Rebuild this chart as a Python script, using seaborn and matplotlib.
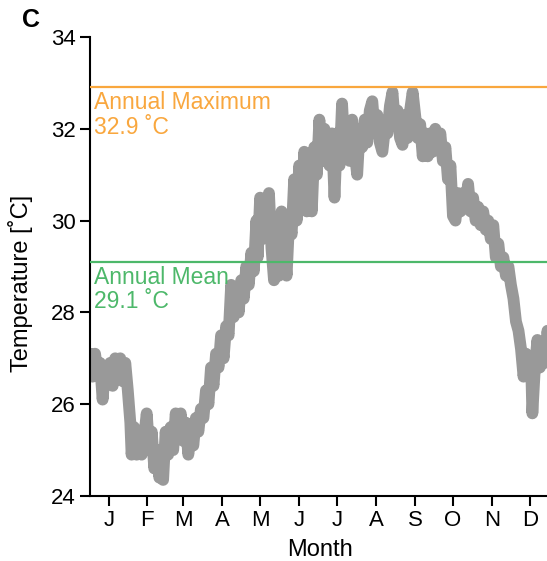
import seaborn as sns
import matplotlib.pyplot as plt
import pandas as pd

# day of year and temperature (zigzag keeps the band look)
days = [0, 2, 4, 6, 8, 10, 12, 14, 16, 18, 20, 22, 24, 26, 28, 30,
        32, 33, 35, 37, 39, 41, 43, 45, 47, 49, 51, 53, 55, 57, 58,
        60, 62, 64, 66, 68, 70, 72, 74, 76, 78, 80, 82, 84, 86, 88,
        90, 92, 94, 96, 98, 100, 102, 104, 106, 108, 110, 112, 114, 116, 118,
        120, 122, 124, 126, 128, 130, 132, 133, 135, 137, 139, 141, 142, 144, 146,
        148, 150, 152, 154, 156, 158, 160, 162, 164, 166, 168, 170, 172, 174, 176,
        178, 180, 182, 184, 186, 188, 190, 192, 194, 196, 198, 200, 202, 204, 206,
        208, 210, 212, 214, 216, 218, 220, 222, 224, 226, 228, 230, 232, 234, 236,
        238, 240, 242, 244, 246, 248, 250, 252, 254, 256, 258, 260, 262, 264, 266,
        268, 270, 272, 274, 276, 278, 280, 282, 284, 286, 288, 290, 292, 294, 296,
        298, 300, 302, 304, 306, 308, 310, 312, 314, 316, 318, 320, 322, 324, 326,
        328, 330, 332, 334, 336, 338, 340, 342, 344, 346, 348, 350, 351, 353, 355,
        357, 359, 361, 363, 365]
temps = [27.1, 26.6, 27.1, 26.7, 26.9, 26.1, 26.8, 26.5, 26.9, 26.4, 27.0, 26.6, 27.0, 26.5, 26.9, 26.3,
         25.6, 24.9, 25.5, 24.9, 25.2, 24.9, 25.3, 25.8, 25.0, 25.4, 24.6, 25.0, 24.4, 24.8, 24.35,
         25.4, 24.9, 25.5, 25.0, 25.8, 25.3, 25.8, 25.2, 25.6, 24.9, 25.4, 25.1, 25.7, 25.4, 25.9,
         25.7, 26.3, 26.0, 26.8, 26.4, 27.1, 26.8, 27.5, 27.0, 27.7, 27.5, 28.6, 27.9, 28.4, 28.0,
         28.7, 28.3, 29.0, 28.6, 29.3, 28.9, 30.0, 29.2, 30.5, 29.6, 30.2, 29.7, 30.6, 29.4, 28.7,
         29.8, 28.8, 30.2, 29.5, 28.8, 30.0, 29.7, 30.9, 30.0, 31.2, 30.4, 31.5, 30.2, 31.0, 30.2,
         31.6, 31.0, 32.2, 31.3, 32.0, 31.6, 31.2, 31.9, 30.5, 31.9, 31.2, 32.55, 31.5, 32.1, 31.3,
         32.2, 31.5, 31.0, 32.0, 31.6, 32.2, 31.7, 32.4, 32.6, 31.9, 32.3, 31.7, 31.5, 32.0, 31.9,
         32.5, 32.8, 32.1, 32.4, 31.8, 31.65, 32.3, 31.8, 32.4, 32.8, 32.3, 31.8, 32.1, 31.4, 31.9,
         31.4, 31.9, 31.5, 32.0, 31.6, 31.9, 31.3, 31.6, 30.9, 31.2, 30.1, 30.0, 30.6, 30.2, 30.6,
         30.3, 30.8, 30.2, 30.5, 30.0, 30.3, 29.9, 30.2, 29.8, 30.0, 29.6, 29.9, 29.2, 29.5, 29.0,
         29.2, 28.8, 29.0, 28.6, 28.3, 27.8, 27.6, 27.2, 26.6, 27.1, 26.6, 26.9, 25.8, 26.8, 27.4,
         26.8, 27.3, 26.9, 27.6, 27.1]

annual_max = 32.9
annual_mean = 29.1

month_days = [15, 45, 74, 105, 135, 166, 196, 227, 258, 288, 319, 349]
month_labels = ['J', 'F', 'M', 'A', 'M', 'J', 'J', 'A', 'S', 'O', 'N', 'D']
y_ticks = [24, 26, 28, 30, 32, 34]

df = pd.DataFrame({'Day': days, 'Temperature': temps})

sns.set_style('ticks')
plt.rcParams['font.family'] = ['Liberation Sans', 'DejaVu Sans']
plt.rcParams['text.color'] = 'black'
plt.rcParams['xtick.color'] = 'black'
plt.rcParams['ytick.color'] = 'black'
plt.rcParams['axes.labelcolor'] = 'black'

fig = plt.figure(figsize=(5.47, 5.61), dpi=100)
ax = fig.add_axes([90 / 547, 1 - 496 / 561, 460 / 547, 459 / 561])

sns.lineplot(data=df, x='Day', y='Temperature', estimator=None, sort=False,
             color='#999999', linewidth=8.5, solid_joinstyle='round',
             solid_capstyle='round', ax=ax, zorder=2)

orange = '#F9A73E'
green = '#4DB86A'
ax.axhline(annual_max, color=orange, linewidth=1.6, zorder=3)
ax.axhline(annual_mean, color=green, linewidth=1.6, zorder=3)
ax.text(3, annual_max - 0.08, f'Annual Maximum\n{annual_max} \u02daC', color=orange,
        fontsize=16.5, va='top', ha='left', linespacing=1.1)
ax.text(3, annual_mean - 0.08, f'Annual Mean\n{annual_mean} \u02daC', color=green,
        fontsize=16.5, va='top', ha='left', linespacing=1.1)

ax.set_xlim(0, 365)
ax.set_ylim(24, 34)
ax.set_xticks(month_days)
ax.set_xticklabels(month_labels)
ax.set_yticks(y_ticks)
ax.tick_params(axis='both', labelsize=16, length=7, width=1.5, pad=3)
ax.set_xlabel('Month', fontsize=17, labelpad=6)
ax.set_ylabel('Temperature [\u02daC]', fontsize=17)
ax.yaxis.set_label_coords((33 - 90) / 460, (496 - 283) / 459)
for side in ['left', 'bottom']:
    ax.spines[side].set_linewidth(1.5)
    ax.spines[side].set_color('black')
sns.despine(ax=ax)

fig.text(22 / 547, 1 - 20 / 561, 'C', fontsize=18, fontweight='bold', va='center')

fig.savefig('out.png', dpi=100)
